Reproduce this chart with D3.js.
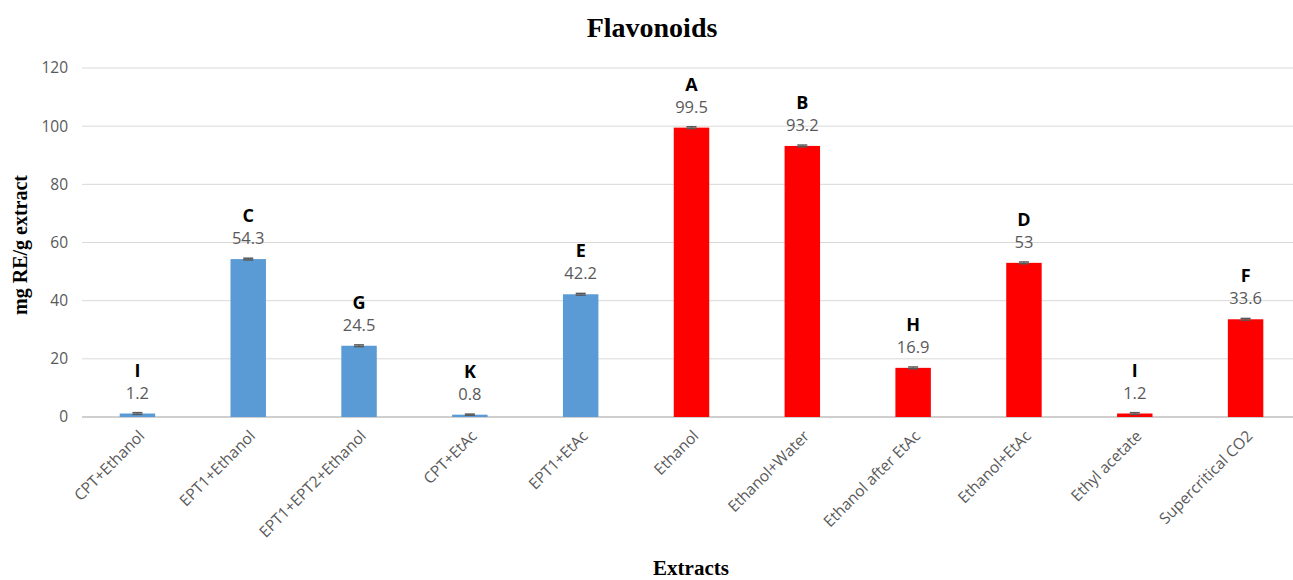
<!DOCTYPE html>
<html><head><meta charset="utf-8">
<script src="https://cdn.jsdelivr.net/npm/d3@7"></script>
<style>body{margin:0;background:#fff}</style>
</head><body>
<svg id="c" width="1293" height="580"></svg>
<script>
const categories = ["CPT+Ethanol","EPT1+Ethanol","EPT1+EPT2+Ethanol","CPT+EtAc","EPT1+EtAc","Ethanol","Ethanol+Water","Ethanol after EtAc","Ethanol+EtAc","Ethyl acetate","Supercritical CO2"];
const values = [1.2,54.3,24.5,0.8,42.2,99.5,93.2,16.9,53,1.2,33.6];
const errors = [0.3,0.3,0.3,0.2,0.3,0.3,0.3,0.3,0.3,0.3,0.3];
const letters = ["I","C","G","K","E","A","B","H","D","I","F"];
const groups = ["blue","blue","blue","blue","blue","red","red","red","red","red","red"];
const yTicks = [0,20,40,60,80,100,120];

const svg = d3.select("#c");
const x = d3.scaleBand().domain(categories).range([82,1301]).paddingInner(0.68).paddingOuter(0.34);
const y = d3.scaleLinear().domain([0,120]).range([417,68]);
const color = d3.scaleOrdinal().domain(["blue","red"]).range(["#5B9BD5","#FF0000"]);
const tickFont = "'Open Sans', sans-serif";

// gridlines
svg.append("g").selectAll("line").data(yTicks).join("line")
  .attr("x1",82).attr("x2",1301).attr("y1",d=>y(d)).attr("y2",d=>y(d))
  .attr("stroke",d=>d===0?"#bfbfbf":"#d9d9d9").attr("stroke-width",d=>d===0?1.5:1);

// y axis labels
const yAxis = d3.axisLeft(y).tickValues(yTicks).tickSize(0).tickPadding(14);
const yg = svg.append("g").attr("transform","translate(82,0)").call(yAxis);
yg.select(".domain").remove();
yg.selectAll("text").attr("font-family",tickFont).attr("font-size",15.5).attr("fill","#595959");

// bars
svg.append("g").selectAll("rect").data(values).join("rect")
  .attr("x",(d,i)=>x(categories[i])).attr("width",x.bandwidth())
  .attr("y",d=>y(d)).attr("height",d=>y(0)-y(d))
  .attr("fill",(d,i)=>color(groups[i]));

// error bars
const eb = svg.append("g");
values.forEach((v,i)=>{
  const cx = x(categories[i])+x.bandwidth()/2;
  eb.append("line").attr("x1",cx).attr("x2",cx).attr("y1",y(v+errors[i])).attr("y2",y(v-errors[i])).attr("stroke","#595959").attr("stroke-width",1);
  [v+errors[i],v-errors[i]].forEach(e=>{
    eb.append("line").attr("x1",cx-5).attr("x2",cx+5).attr("y1",y(e)).attr("y2",y(e)).attr("stroke","#595959").attr("stroke-width",1.5);
  });
});

// value labels
svg.append("g").selectAll("text").data(values).join("text")
  .attr("x",(d,i)=>x(categories[i])+x.bandwidth()/2).attr("y",d=>y(d)-15)
  .attr("text-anchor","middle").attr("font-family",tickFont).attr("font-size",16.5).attr("fill","#595959")
  .text(d=>d);

// letters
svg.append("g").selectAll("text").data(values).join("text")
  .attr("x",(d,i)=>x(categories[i])+x.bandwidth()/2).attr("y",d=>y(d)-37)
  .attr("text-anchor","middle").attr("font-family",tickFont).attr("font-weight","bold").attr("font-size",18).attr("fill","#000")
  .text((d,i)=>letters[i]);

// x axis labels
const xAxis = d3.axisBottom(x).tickSize(0).tickPadding(0);
const xg = svg.append("g").attr("transform","translate(0,417)").call(xAxis);
xg.select(".domain").remove();
xg.selectAll("text").attr("font-family",tickFont).attr("font-size",15.5).attr("fill","#595959")
  .attr("text-anchor","end").attr("dy",null)
  .attr("transform","translate(8,20) rotate(-45)");

// titles
svg.append("text").attr("x",652).attr("y",37).attr("text-anchor","middle")
  .attr("font-family","'Liberation Serif', serif").attr("font-weight","bold").attr("font-size",28).text("Flavonoids");
svg.append("text").attr("transform","translate(27,245) rotate(-90)").attr("text-anchor","middle")
  .attr("font-family","'Liberation Serif', serif").attr("font-weight","bold").attr("font-size",20).text("mg RE/g extract");
svg.append("text").attr("x",691).attr("y",575).attr("text-anchor","middle")
  .attr("font-family","'Liberation Serif', serif").attr("font-weight","bold").attr("font-size",21).text("Extracts");
</script>
</body></html>
